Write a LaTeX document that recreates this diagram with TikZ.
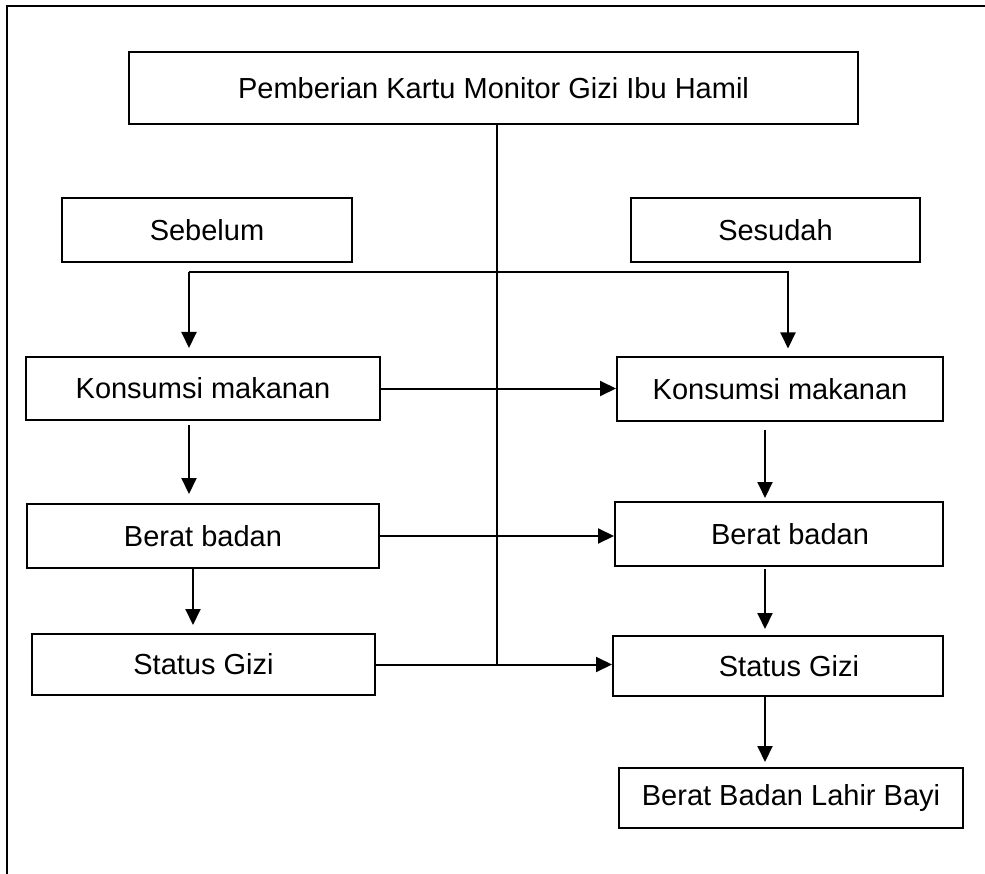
\documentclass[tikz,border=0pt]{standalone}
\usepackage{fontspec}
\setmainfont{Liberation Sans}
\usepackage{tikz}
\usetikzlibrary{arrows.meta, positioning}

\begin{document}
\begin{tikzpicture}[x=1pt, y=-1pt,
    box/.style={rectangle, draw=black, line width=2pt, inner sep=0pt,
                minimum height=64pt, text centered,
                font=\fontsize{29}{34}\selectfont},
    arrow/.style={-{Triangle[length=16pt, width=15pt]}, line width=2pt},
    link/.style={line width=2pt}
]
\useasboundingbox (0,0) rectangle (985,874);
\clip (0,0) rectangle (985,874);
\draw [link] (7,6) rectangle (995,890);

\node (top)  [box, minimum width=729pt, minimum height=72pt] at (493.5,88) {Pemberian Kartu Monitor Gizi Ibu Hamil};
\node (seb)  [box, minimum width=290pt] at (207,230)   {Sebelum};
\node (ses)  [box, minimum width=289pt] at (775.5,230) {Sesudah};
\node (kmL)  [box, minimum width=354pt, minimum height=63pt] at (203,388.5) {Konsumsi makanan};
\node (kmR)  [box, minimum width=326pt, minimum height=63pt] at (780,389)   {Konsumsi makanan};
\node (bbL)  [box, minimum width=352pt] at (203,536) {Berat badan};
\node (bbR)  [box, minimum width=328pt] at (779,534) {\hspace*{22pt}Berat badan};
\node (sgL)  [box, minimum width=343pt, minimum height=61pt] at (203.5,664.5) {Status Gizi};
\node (sgR)  [box, minimum width=330pt, minimum height=60pt] at (778,666)     {\hspace*{22pt}Status Gizi};
\node (bayi) [box, minimum width=344pt, minimum height=60pt] at (791,798) {Berat Badan Lahir Bayi};

\coordinate (splitL) at (189,272);
\coordinate (splitR) at (788,272);
\coordinate (colA) at (189,0);
\coordinate (colB) at (193,0);
\coordinate (colR) at (765,0);
\coordinate (hub)  at (497,664.5);

% garis tengah dari kartu monitor
\draw [link] (hub |- top.south) -- (hub);

% cabang sebelum / sesudah
\draw [arrow, shorten >=8pt] (splitL) -- (splitL |- kmL.north);
\draw [arrow, shorten >=8pt] (splitL) -- (splitR) -- (splitR |- kmR.north);

% sebelum -> sesudah
\draw [arrow] (kmL.east) -- (kmL.east -| kmR.west);
\draw [arrow] (bbL.east) -- (bbL.east -| bbR.west);
\draw [arrow] (sgL.east) -- (sgL.east -| sgR.west);

% urutan kiri
\draw [arrow, shorten <=4pt, shorten >=9pt] (kmL.south -| colA) -- (bbL.north -| colA);
\draw [arrow, shorten >=8pt] (bbL.south -| colB) -- (sgL.north -| colB);

% urutan kanan
\draw [arrow, shorten <=8pt, shorten >=3pt] (kmR.south -| colR) -- (bbR.north -| colR);
\draw [arrow, shorten <=2pt, shorten >=6pt] (bbR.south -| colR) -- (sgR.north -| colR);
\draw [arrow, shorten >=5pt] (sgR.south -| colR) -- (bayi.north -| colR);
\end{tikzpicture}
\end{document}
